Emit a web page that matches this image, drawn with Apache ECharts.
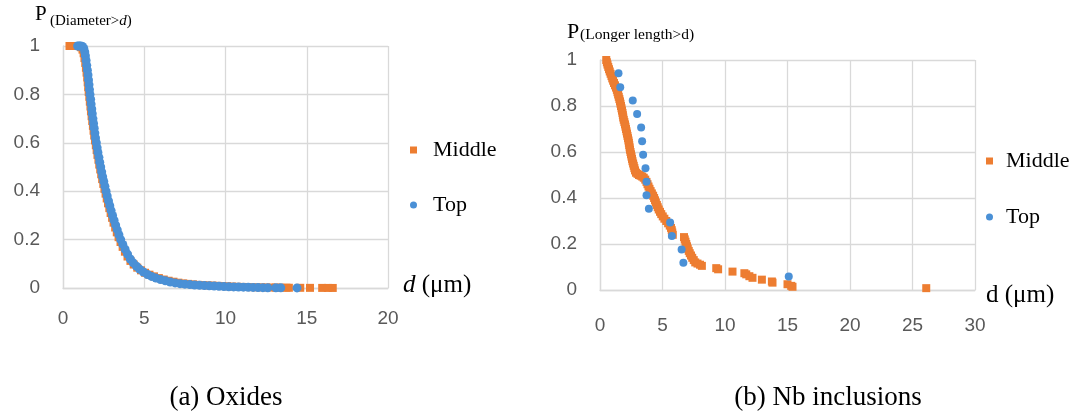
<!DOCTYPE html>
<html><head><meta charset="utf-8">
<script src="https://cdn.jsdelivr.net/npm/echarts@6/dist/echarts.min.js"></script>
<style>html,body{margin:0;padding:0;background:#fff}#c{width:1078px;height:417px}</style>
</head><body><div id="c"></div>
<script>
// ---- tick labels ----
const xTicksA = [0, 5, 10, 15, 20];
const xTicksB = [0, 5, 10, 15, 20, 25, 30];
const yTicks = [0, 0.2, 0.4, 0.6, 0.8, 1];
const seriesNames = ['Middle', 'Top'];
const captions = ['(a) Oxides', '(b) Nb inclusions'];

// ---- (a) Oxides: [d, P(Diameter>d)] ----
const oxMiddle = [[0.4,1],[0.55,1],[0.7,1],[0.85,1],[1.0,1],[1.1,0.995],[1.2,0.985],[1.27,0.97],[1.32,0.95],[1.37,0.93],[1.41,0.91],[1.45,0.89],[1.49,0.87],[1.52,0.85],[1.55,0.83],[1.58,0.81],[1.62,0.79],[1.65,0.77],[1.69,0.75],[1.72,0.73],[1.76,0.71],[1.8,0.69],[1.84,0.67],[1.88,0.65],[1.92,0.63],[1.97,0.61],[2.02,0.59],[2.07,0.57],[2.12,0.55],[2.18,0.53],[2.23,0.51],[2.29,0.49],[2.35,0.47],[2.41,0.45],[2.48,0.43],[2.55,0.41],[2.62,0.39],[2.69,0.37],[2.77,0.35],[2.85,0.33],[2.93,0.31],[3.02,0.29],[3.11,0.27],[3.21,0.25],[3.31,0.23],[3.42,0.21],[3.54,0.19],[3.67,0.17],[3.81,0.15],[3.97,0.13],[4.15,0.112],[4.35,0.097],[4.57,0.084],[4.8,0.073],[5.05,0.063],[5.32,0.055],[5.6,0.048],[5.9,0.041],[6.2,0.035],[6.5,0.03],[6.8,0.026],[7.1,0.022],[7.4,0.019],[7.7,0.017],[8.0,0.015],[8.3,0.013],[8.6,0.012],[8.9,0.011],[9.2,0.01],[9.5,0.009],[9.8,0.008],[10.1,0.007],[10.4,0.006],[10.7,0.005],[11.0,0.0045],[11.3,0.004],[11.6,0.0035],[11.9,0.003],[12.2,0.0027],[12.5,0.0024],[12.8,0.002],[13.1,0.0018],[13.4,0.0015],[13.75,0.0012],[13.9,0.001],[14.6,0.0008],[15.2,0.0006],[15.95,0.0004],[16.3,0.0003],[16.6,0.0002]];
const oxTop = [[0.9,1],[1.0,1],[1.1,1],[1.2,0.998],[1.28,0.99],[1.34,0.975],[1.38,0.96],[1.42,0.94],[1.46,0.92],[1.5,0.9],[1.54,0.88],[1.57,0.86],[1.6,0.84],[1.63,0.82],[1.66,0.8],[1.7,0.78],[1.73,0.76],[1.77,0.74],[1.8,0.72],[1.84,0.7],[1.88,0.68],[1.92,0.66],[1.96,0.64],[2.0,0.62],[2.05,0.6],[2.1,0.58],[2.15,0.56],[2.21,0.54],[2.26,0.52],[2.32,0.5],[2.38,0.48],[2.44,0.46],[2.51,0.44],[2.58,0.42],[2.65,0.4],[2.72,0.38],[2.8,0.36],[2.88,0.34],[2.96,0.32],[3.05,0.3],[3.14,0.28],[3.24,0.26],[3.34,0.24],[3.44,0.22],[3.55,0.2],[3.68,0.18],[3.82,0.16],[3.97,0.14],[4.14,0.12],[4.32,0.104],[4.52,0.09],[4.72,0.077],[4.95,0.066],[5.2,0.056],[5.45,0.048],[5.72,0.041],[6.0,0.035],[6.3,0.03],[6.6,0.025],[6.9,0.021],[7.2,0.018],[7.5,0.016],[7.8,0.014],[8.1,0.012],[8.4,0.011],[8.7,0.01],[9.0,0.009],[9.3,0.008],[9.6,0.007],[9.9,0.006],[10.2,0.005],[10.5,0.0045],[10.8,0.004],[11.1,0.0035],[11.4,0.003],[11.7,0.0025],[12.0,0.002],[12.3,0.0015],[12.6,0.001],[13.1,0.0008],[13.4,0.0006],[14.4,0.0003]];

// ---- (b) Nb inclusions: [d, P(Longer length>d)] ----
const nbMiddle = [[0.5,1.0],[0.55,0.99],[0.6,0.98],[0.66,0.97],[0.72,0.96],[0.78,0.95],[0.85,0.94],[0.92,0.93],[0.98,0.92],[1.05,0.91],[1.12,0.9],[1.2,0.89],[1.28,0.88],[1.35,0.87],[1.4,0.86],[1.45,0.85],[1.5,0.84],[1.55,0.83],[1.6,0.82],[1.64,0.81],[1.68,0.8],[1.72,0.79],[1.76,0.78],[1.8,0.77],[1.83,0.76],[1.86,0.75],[1.9,0.74],[1.95,0.73],[2.0,0.72],[2.04,0.71],[2.08,0.7],[2.12,0.69],[2.16,0.68],[2.2,0.67],[2.24,0.66],[2.28,0.65],[2.31,0.64],[2.34,0.63],[2.37,0.62],[2.4,0.61],[2.44,0.6],[2.48,0.59],[2.52,0.58],[2.56,0.57],[2.6,0.56],[2.65,0.55],[2.7,0.54],[2.75,0.53],[2.8,0.52],[2.88,0.51],[3.0,0.505],[3.12,0.5],[3.25,0.497],[3.38,0.493],[3.5,0.488],[3.62,0.48],[3.72,0.47],[3.8,0.46],[3.88,0.45],[3.96,0.44],[4.05,0.43],[4.15,0.42],[4.25,0.41],[4.33,0.4],[4.4,0.39],[4.47,0.38],[4.55,0.37],[4.62,0.36],[4.7,0.35],[4.8,0.34],[4.9,0.33],[5.02,0.32],[5.15,0.31],[5.3,0.3],[5.45,0.29],[5.58,0.28],[5.68,0.27],[5.74,0.26],[5.78,0.25],[5.82,0.24],[6.72,0.23],[6.78,0.22],[6.84,0.21],[6.9,0.2],[6.96,0.19],[7.02,0.18],[7.1,0.17],[7.18,0.16],[7.28,0.15],[7.38,0.14],[7.5,0.13],[7.62,0.12],[7.8,0.115],[8.0,0.11],[8.15,0.105],[9.3,0.095],[9.45,0.09],[10.6,0.08],[11.55,0.073],[11.7,0.068],[11.95,0.06],[12.2,0.053],[12.95,0.045],[13.75,0.037],[13.8,0.032],[15.0,0.025],[15.3,0.018],[15.4,0.014],[26.1,0.008]];
const nbTop = [[1.48,0.942],[1.62,0.882],[2.62,0.824],[2.97,0.765],[3.29,0.706],[3.37,0.647],[3.45,0.588],[3.64,0.529],[3.72,0.471],[3.72,0.412],[3.91,0.353],[5.61,0.294],[5.75,0.235],[6.53,0.176],[6.67,0.118],[15.1,0.059]];

const ORANGE = '#ED7D31', BLUE = '#4A90D6', GRID = '#D9D9D9', LABEL = '#595959';
const SERIF = '"Liberation Serif","Times New Roman",serif';
const SANS = '"Liberation Sans",Arial,sans-serif';

function xAxisOf(ticks, gridIndex, name, nameGap, namePad, labelMargin) {
  return {
    type: 'value', gridIndex, min: ticks[0], max: ticks[ticks.length - 1], interval: ticks[1] - ticks[0],
    axisLine: { show: true, lineStyle: { color: GRID, width: 1.3 } },
    axisTick: { show: false },
    splitLine: { show: true, lineStyle: { color: GRID, width: 1.3 } },
    axisLabel: { color: LABEL, fontSize: 19, fontFamily: SANS, margin: labelMargin },
    name, nameLocation: 'end', nameGap,
    nameTextStyle: { color: '#000', fontSize: 25, fontFamily: SERIF, padding: namePad,
      rich: { i: { fontStyle: 'italic', fontSize: 25, fontFamily: SERIF, color: '#000' } } }
  };
}
function yAxisOf(gridIndex) {
  return {
    type: 'value', gridIndex, min: yTicks[0], max: yTicks[yTicks.length - 1], interval: yTicks[1] - yTicks[0],
    axisLine: { show: true, lineStyle: { color: GRID, width: 1.3 } },
    axisTick: { show: false },
    splitLine: { show: true, lineStyle: { color: GRID, width: 1.3 } },
    axisLabel: { color: LABEL, fontSize: 19, fontFamily: SANS, margin: 23 }
  };
}
function legendOf(left, top, gap, textPad) {
  return {
    orient: 'vertical', left, top, padding: 0, itemGap: gap, itemWidth: 7, itemHeight: 7,
    data: [{ name: seriesNames[0], icon: 'rect' }, { name: seriesNames[1], icon: 'circle' }],
    textStyle: { color: '#000', fontSize: 22, fontFamily: SERIF, lineHeight: 24, padding: [0, 0, 0, textPad] },
    selectedMode: false
  };
}

const chart = echarts.init(document.getElementById('c'), null, { renderer: 'canvas' });
chart.setOption({
  animation: false,
  backgroundColor: '#fff',
  grid: [
    { left: 63, top: 46, width: 325, height: 242 },
    { left: 600, top: 60, width: 375, height: 230 }
  ],
  xAxis: [
    xAxisOf(xTicksA, 0, '{i|d} (μm)', 15, [0, 0, 6, 0], 21),
    xAxisOf(xTicksB, 1, 'd (μm)', 11, [10, 0, 0, 0], 26)
  ],
  yAxis: [yAxisOf(0), yAxisOf(1)],
  legend: [legendOf(410, 138, 31, 11), legendOf(986, 149, 32, 8)],
  graphic: [
    { type: 'text', left: 35, top: 4, style: { text: 'P', font: '21px ' + SERIF, fill: '#000' } },
    { type: 'text', left: 50, top: 14, style: { text: '{n|(Diameter>}{i|d}{n|)}', rich: {
        n: { fontSize: 15, fontFamily: SERIF, fill: '#000' },
        i: { fontSize: 15, fontFamily: SERIF, fontStyle: 'italic', fill: '#000' } } } },
    { type: 'text', left: 567, top: 21, style: { text: 'P', font: '22px ' + SERIF, fill: '#000' } },
    { type: 'text', left: 580, top: 27, style: { text: '(Longer length>d)', font: '15.5px ' + SERIF, fill: '#000' } },
    { type: 'text', x: 226, y: 398, style: { text: captions[0], font: '27px ' + SERIF, fill: '#000', align: 'center', verticalAlign: 'middle' } },
    { type: 'text', x: 828, y: 398, style: { text: captions[1], font: '27px ' + SERIF, fill: '#000', align: 'center', verticalAlign: 'middle' } }
  ],
  series: [
    { name: seriesNames[0], type: 'scatter', xAxisIndex: 0, yAxisIndex: 0, symbol: 'rect', symbolSize: 8, itemStyle: { color: ORANGE, opacity: 1 }, data: oxMiddle },
    { name: seriesNames[1], type: 'scatter', xAxisIndex: 0, yAxisIndex: 0, symbol: 'circle', symbolSize: 9, itemStyle: { color: BLUE, opacity: 1 }, data: oxTop },
    { name: seriesNames[0], type: 'scatter', xAxisIndex: 1, yAxisIndex: 1, symbol: 'rect', symbolSize: 8, itemStyle: { color: ORANGE, opacity: 1 }, data: nbMiddle },
    { name: seriesNames[1], type: 'scatter', xAxisIndex: 1, yAxisIndex: 1, symbol: 'circle', symbolSize: 8, itemStyle: { color: BLUE, opacity: 1 }, data: nbTop }
  ]
});
</script>
</body></html>
